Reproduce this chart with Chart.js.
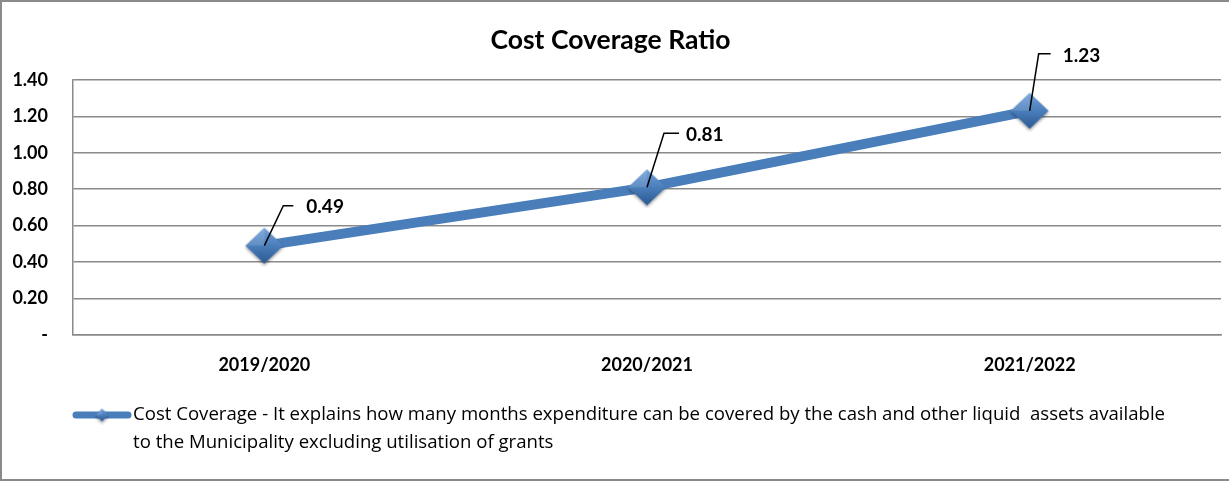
<!DOCTYPE html>
<html>
<head>
<meta charset="utf-8">
<script src="https://cdn.jsdelivr.net/npm/chart.js@4"></script>
<style>
  html, body { margin: 0; padding: 0; background: #fff; }
  #wrap {
    position: relative;
    width: 1229px;
    height: 481px;
    box-sizing: border-box;
    border-left: 2px solid #8a8a8a;
    border-top: 2px solid #8a8a8a;
    border-bottom: 2px solid #8a8a8a;
  }
  #wrap canvas { position: absolute; left: -2px; top: -2px; }
</style>
</head>
<body>
<div id="wrap"><canvas id="costCoverageChart" width="1229" height="481"></canvas></div>
<script>
const years = ['2019/2020', '2020/2021', '2021/2022'];
const costCoverage = [0.49, 0.81, 1.23];
const yTicks = [0, 0.2, 0.4, 0.6, 0.8, 1.0, 1.2, 1.4];
const seriesLabel = 'Cost Coverage - It explains how many months expenditure can be covered by the cash and other liquid  assets available to the Municipality excluding utilisation of grants';
const legendLines = [
  'Cost Coverage - It explains how many months expenditure can be covered by the cash and other liquid  assets available',
  'to the Municipality excluding utilisation of grants'
];

const FONT = 'Lato, "Open Sans", sans-serif';
const LEGEND_FONT = '"Open Sans", Lato, sans-serif';
const LINE_BLUE = '#4a7ebb';

// shaded diamond used as the point marker
function makeDiamond(w, h) {
  const c = document.createElement('canvas');
  c.width = w + 6; c.height = h + 6;
  const g = c.getContext('2d');
  const cx = c.width / 2, cy = c.height / 2;
  g.shadowColor = 'rgba(0,0,0,0.35)';
  g.shadowBlur = 3;
  g.shadowOffsetY = 2;
  g.beginPath();
  g.moveTo(cx, cy - h / 2);
  g.lineTo(cx + w / 2, cy);
  g.lineTo(cx, cy + h / 2);
  g.lineTo(cx - w / 2, cy);
  g.closePath();
  const grad = g.createLinearGradient(0, cy - h / 2, 0, cy + h / 2);
  grad.addColorStop(0, '#75a2da');
  grad.addColorStop(0.5, '#4a7ebb');
  grad.addColorStop(1, '#2b5892');
  g.fillStyle = grad;
  g.fill();
  g.shadowColor = 'transparent';
  // lighter upper-left facet
  g.beginPath();
  g.moveTo(cx, cy - h / 2);
  g.lineTo(cx - w / 2, cy);
  g.lineTo(cx, cy);
  g.closePath();
  g.fillStyle = 'rgba(255,255,255,0.12)';
  g.fill();
  return c;
}

const bigDiamond = makeDiamond(38, 36);
const smallDiamond = makeDiamond(13, 13);

// data labels with a short leader line (offsets in px from the point)
const labelOffsets = [
  { dx: 42, dy: -39, bend: [19, -40], tail: 29 },
  { dx: 39, dy: -52, bend: [17, -54], tail: 32 },
  { dx: 33, dy: -55, bend: [9, -57], tail: 21 }
];

const leaderLabels = {
  id: 'leaderLabels',
  afterDatasetsDraw(chart) {
    const ctx = chart.ctx;
    const meta = chart.getDatasetMeta(0);
    const values = chart.data.datasets[0].data;
    ctx.save();
    meta.data.forEach((pt, i) => {
      const o = labelOffsets[i];
      ctx.beginPath();
      ctx.strokeStyle = '#000';
      ctx.lineWidth = 1.5;
      ctx.moveTo(pt.x, pt.y);
      ctx.lineTo(pt.x + o.bend[0], pt.y + o.bend[1]);
      ctx.lineTo(pt.x + o.tail, pt.y + o.bend[1]);
      ctx.stroke();
      ctx.fillStyle = '#000';
      ctx.font = 'bold 19px ' + FONT;
      ctx.textAlign = 'left';
      ctx.textBaseline = 'middle';
      ctx.fillText(values[i].toFixed(2), pt.x + o.dx, pt.y + o.dy);
    });
    ctx.restore();
  }
};

// two-line legend under the axis
const wrappedLegend = {
  id: 'wrappedLegend',
  afterDraw(chart) {
    const ctx = chart.ctx;
    const y0 = 415;
    ctx.save();
    ctx.strokeStyle = LINE_BLUE;
    ctx.lineWidth = 7;
    ctx.lineCap = 'round';
    ctx.beginPath();
    ctx.moveTo(76, y0);
    ctx.lineTo(128, y0);
    ctx.stroke();
    ctx.drawImage(smallDiamond, 102 - smallDiamond.width / 2, y0 - smallDiamond.height / 2);
    ctx.fillStyle = '#000';
    ctx.font = '18.6px ' + LEGEND_FONT;
    ctx.textAlign = 'left';
    ctx.textBaseline = 'middle';
    legendLines.forEach((t, i) => ctx.fillText(t, 133, y0 + i * 28));
    ctx.restore();
  }
};

new Chart(document.getElementById('costCoverageChart'), {
  type: 'line',
  data: {
    labels: years,
    datasets: [{
      label: seriesLabel,
      data: costCoverage,
      borderColor: LINE_BLUE,
      borderWidth: 10,
      borderCapStyle: 'butt',
      tension: 0,
      fill: false,
      pointStyle: bigDiamond,
      pointRadius: 18,
      pointHoverRadius: 18
    }]
  },
  options: {
    responsive: false,
    animation: false,
    devicePixelRatio: 1,
    layout: { autoPadding: false, padding: { left: 0, right: 8, top: 0, bottom: 0 } },
    plugins: {
      legend: { display: false },
      tooltip: { enabled: false },
      title: {
        display: true,
        text: 'Cost Coverage Ratio',
        color: '#000',
        font: { family: FONT, size: 26.5, weight: 'bold' },
        padding: { top: 25, bottom: 23 }
      }
    },
    scales: {
      x: {
        offset: true,
        grid: { display: false, drawTicks: false },
        border: { display: true, color: '#8a8a8a', width: 1.5 },
        ticks: {
          color: '#000',
          padding: 19,
          font: { family: FONT, size: 18, weight: 'bold' }
        },
        afterFit(scale) { scale.height = 146; }
      },
      y: {
        min: 0,
        max: 1.4,
        afterBuildTicks(scale) { scale.ticks = yTicks.map(v => ({ value: v })); },
        grid: { color: '#8a8a8a', lineWidth: 1.5, drawTicks: false },
        border: { display: true, color: '#8a8a8a', width: 1.5 },
        ticks: {
          color: '#000',
          padding: 25,
          font: { family: FONT, size: 18, weight: 'bold' },
          callback: v => v === 0 ? '-' : v.toFixed(2)
        },
        afterFit(scale) { scale.width = 73; }
      }
    }
  },
  plugins: [leaderLabels, wrappedLegend]
});
</script>
</body>
</html>
